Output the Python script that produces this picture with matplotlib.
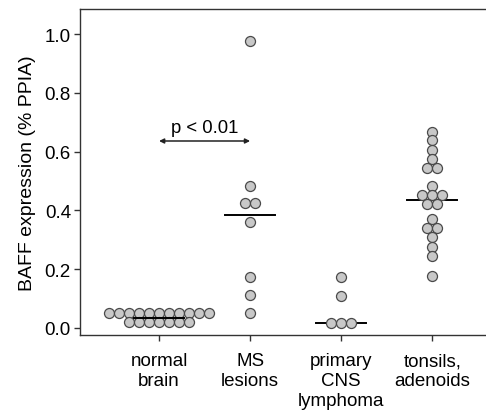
import matplotlib
matplotlib.use("Agg")
import matplotlib.pyplot as plt
import numpy as np

plt.rcParams['font.family'] = ['Liberation Sans', 'DejaVu Sans']

categories = ["normal\nbrain", "MS\nlesions", "primary\nCNS\nlymphoma", "tonsils,\nadenoids"]

normal_brain = [0.05] * 11 + [0.02] * 7
ms_lesions = [0.977, 0.484, 0.425, 0.425, 0.362, 0.175, 0.113, 0.051]
cns_lymphoma = [0.172, 0.11, 0.017, 0.017, 0.017]
tonsils = [0.668, 0.639, 0.607, 0.575, 0.544, 0.544, 0.484, 0.452, 0.452, 0.452,
           0.421, 0.421, 0.371, 0.339, 0.339, 0.308, 0.277, 0.246, 0.176]
groups = [normal_brain, ms_lesions, cns_lymphoma, tonsils]
medians = [0.034, 0.385, 0.017, 0.436]

yticks = [0.0, 0.2, 0.4, 0.6, 0.8, 1.0]
p_text = "p < 0.01"
p_y = 0.636

fig = plt.figure(figsize=(4.86, 4.14), dpi=100)
ax = fig.add_axes([0.1646, 0.1884, 0.8334, 0.7874])

step = 0.11  # horizontal spacing of tied points (data units)
for i, vals in enumerate(groups):
    vals = np.array(vals)
    xs = np.zeros_like(vals)
    for v in np.unique(vals):
        idx = np.where(vals == v)[0]
        n = len(idx)
        xs[idx] = i + (np.arange(n) - (n - 1) / 2) * step
    ax.scatter(xs, vals, s=52, facecolor='#c8c8c8', edgecolor='#4a4a4a',
               linewidth=0.9, zorder=3)
    ax.plot([i - 0.275, i + 0.275], [medians[i], medians[i]], color='black',
            lw=1.4, zorder=4 if i == 0 else 2)

ax.annotate('', xy=(0, p_y), xytext=(1, p_y),
            arrowprops=dict(arrowstyle='<|-|>', color='#222222', lw=1.1,
                            mutation_scale=7, shrinkA=0, shrinkB=0))
ax.text(0.5, p_y + 0.031, p_text, ha='center', va='baseline', fontsize=13.3)

ax.set_xlim(-0.868, 3.58)
ax.set_ylim(-0.024, 1.085)
ax.set_xticks(range(len(categories)))
ax.set_xticklabels(categories, fontsize=13.5, linespacing=1.2, va='top')
ax.set_yticks(yticks)
ax.set_yticklabels([f"{t:.1f}" for t in yticks], fontsize=13.5)
ax.set_ylabel("BAFF expression (% PPIA)", fontsize=14, labelpad=6)

for s in ['left', 'bottom', 'top']:
    ax.spines[s].set_color('#333333')
    ax.spines[s].set_linewidth(1.0)
ax.spines['right'].set_visible(False)
ax.tick_params(axis='both', direction='out', length=4.5, width=1, color='#333333')
ax.tick_params(axis='y', pad=2)
ax.tick_params(axis='x', pad=8)

fig.savefig("out.png", dpi=100)
